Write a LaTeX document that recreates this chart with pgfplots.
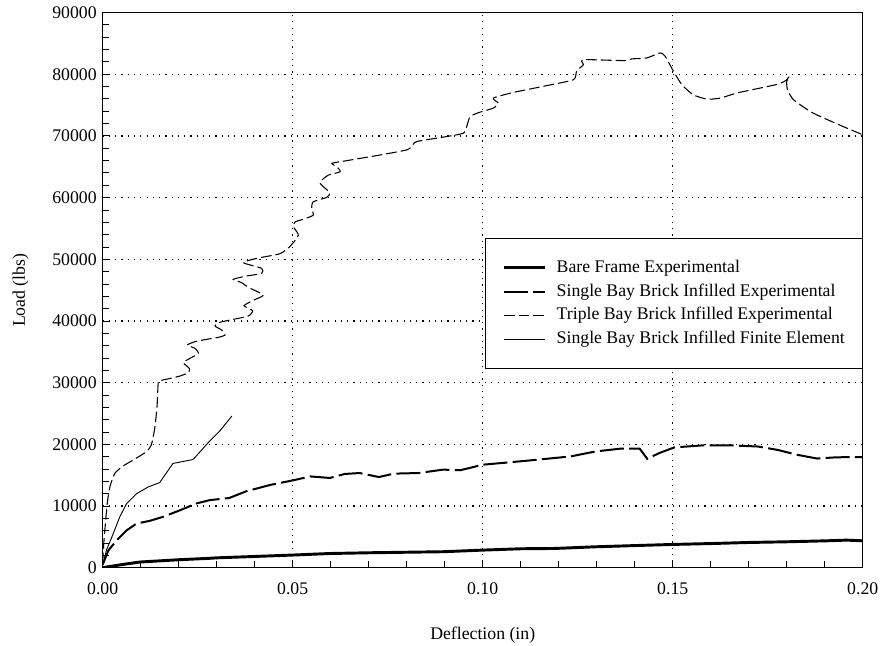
\documentclass[border=0pt]{standalone}
\usepackage{fontspec}
\setmainfont{Liberation Serif}
\usepackage{pgfplots}
\pgfplotsset{compat=1.18}
\newcommand{\cf}{\fontsize{13.3}{16}\selectfont}
\begin{document}
\begin{tikzpicture}
\begin{axis}[
  scale only axis,
  width=570pt, height=416.25pt,
  xmin=0, xmax=0.2, ymin=0, ymax=90000,
  enlargelimits=false,
  axis line style={line width=1pt},
  xtick={0,0.05,0.1,0.15,0.2},
  ytick={0,10000,...,90000},
  minor x tick num=4,
  minor y tick num=4,
  tick align=inside,
  tick pos=left,
  major tick length=5pt, minor tick length=5pt,
  every tick/.style={black, line width=0.75pt},
  grid=major,
  major grid style={black, line width=0.9pt, dash pattern=on 0.9pt off 3.8pt},
  scaled ticks=false,
  /pgf/number format/assume math mode=true,
  xticklabel style={font=\cf, yshift=-7.6pt, /pgf/number format/.cd, fixed, fixed zerofill, precision=2},
  yticklabel style={font=\cf, xshift=-1pt, /pgf/number format/.cd, fixed, precision=0, 1000 sep={}},
  xlabel={Deflection (in)},
  ylabel={Load (lbs)},
  xlabel style={font=\cf, at={(axis description cs:0.5,-0.1285)}, anchor=base},
  ylabel style={font=\cf, at={(axis description cs:-0.108,0.5)}, anchor=center},
  legend image code/.code={\draw[#1] (0pt,0pt) -- (30.5pt,0pt);},
  legend style={at={(rel axis cs:1,0.5935)}, anchor=north east, draw=black, line width=0.8pt,
    fill=white, font=\cf, inner xsep=13pt, inner ysep=15.5pt, row sep=5.4pt,
    nodes={inner sep=0pt, text height=9.5pt, text depth=3pt},
    /tikz/every odd column/.append style={column sep=8pt}},
  legend cell align=left,
]
% Bare Frame Experimental
\addplot[black, line width=2.2pt, line join=round] coordinates {
(0,0) (0.005,500) (0.0098,920) (0.0203,1300) (0.0281,1520) (0.03,1600) (0.0404,1830)
(0.05,2050) (0.0598,2300) (0.07,2420) (0.0896,2590) (0.1,2850) (0.11,3070) (0.119,3120)
(0.1297,3390) (0.1413,3610) (0.15,3770) (0.161,3930) (0.17,4090) (0.18,4200)
(0.1905,4360) (0.1957,4470) (0.2,4360)
};
\addlegendentry{Bare Frame Experimental}
% Single Bay Brick Infilled Experimental
\addplot[black, line width=1.5pt, dash pattern=on 18pt off 4pt] coordinates {
(0,500) (0.0015,2800) (0.0037,4450) (0.0063,6050) (0.0089,7150) (0.0124,7600)
(0.0159,8250) (0.0203,9300) (0.0246,10400) (0.0281,10950) (0.0333,11300) (0.0378,12400)
(0.0443,13450) (0.05,14150) (0.0546,14800) (0.0598,14550) (0.0637,15200) (0.0676,15350)
(0.0727,14700) (0.0766,15250) (0.0831,15350) (0.0896,15900) (0.0941,15800) (0.1,16700)
(0.1064,17050) (0.1142,17500) (0.1232,18050) (0.1297,18850) (0.1362,19300) (0.1413,19300)
(0.1433,17650) (0.1465,18600) (0.1504,19500) (0.1582,19850) (0.1646,19850) (0.1724,19650)
(0.1776,19100) (0.1828,18300) (0.188,17700) (0.1931,17900) (0.2,17950)
};
\addlegendentry{Single Bay Brick Infilled Experimental}
% Triple Bay Brick Infilled Experimental
\addplot[black, line width=0.8pt, dash pattern=on 8pt off 3pt, smooth, tension=0.35] coordinates {
(0,700) (0.00035,4450) (0.0012,10400) (0.0019,13100) (0.0032,15300) (0.0054,16500)
(0.008,17450) (0.0115,18800) (0.0128,19900) (0.0137,22600) (0.0143,26100) (0.0146,29900)
(0.015,30300) (0.0185,30800) (0.02034,31081) (0.02253,31622) (0.0228,32325) (0.02122,33244)
(0.02297,33946) (0.02517,34757) (0.02429,35568) (0.02227,36108) (0.02429,36649)
(0.02736,37027) (0.03043,37351) (0.03219,37730) (0.03131,38541) (0.02955,39190)
(0.03043,39730) (0.03438,40270) (0.03833,40811) (0.03947,41676) (0.03719,42487)
(0.03982,43405) (0.04228,44216) (0.03833,45459) (0.03657,46216) (0.03438,46757)
(0.03789,47297) (0.04184,47730) (0.04184,48541) (0.03701,49459) (0.04053,50162)
(0.04667,50917) (0.0493,52110) (0.0515,53900) (0.0502,55260) (0.0506,56070)
(0.0528,56500) (0.0554,57160) (0.055,58240) (0.0554,59330) (0.0589,60030)
(0.0598,60790) (0.0576,62040) (0.0572,62580) (0.0594,63670) (0.0625,64210)
(0.0616,65020) (0.0603,65570) (0.0642,66000) (0.073,66920) (0.08,67740)
(0.0813,68280) (0.0826,69090) (0.0905,69910) (0.0949,70450) (0.0958,71540)
(0.0967,73160) (0.0993,73870) (0.1028,74520) (0.1041,75330) (0.1028,76150)
(0.1081,77070) (0.1168,78160) (0.1239,79130) (0.1247,80490) (0.1265,81580)
(0.126,82120) (0.1269,82390) (0.1335,82280) (0.1379,82230) (0.1392,82500)
(0.1432,82660) (0.1467,83480) (0.148,82930) (0.1502,80490) (0.1524,78320)
(0.1554,76680) (0.159,75980) (0.1625,76140) (0.1668,76960) (0.173,77770)
(0.1782,78480) (0.18,79130) (0.1807,79670) (0.18,78860) (0.1802,77500)
(0.1818,75870) (0.187,73700) (0.1949,71520) (0.2,70200)
};
\addlegendentry{Triple Bay Brick Infilled Experimental}
% Single Bay Brick Infilled Finite Element
\addplot[black, line width=0.7pt] coordinates {
(0,400) (0.001,2850) (0.0028,5550) (0.0045,8250) (0.0063,10400) (0.0089,12000)
(0.012,13100) (0.015,13800) (0.0185,16900) (0.0238,17550) (0.0281,20500)
(0.031,22300) (0.034,24600)
};
\addlegendentry{Single Bay Brick Infilled Finite Element}
\end{axis}
\pgfresetboundingbox
\path (current axis.south west) ++(-77pt,-58.7pt) rectangle ([xshift=13.7pt,yshift=9.5pt]current axis.north east);
\end{tikzpicture}
\end{document}
